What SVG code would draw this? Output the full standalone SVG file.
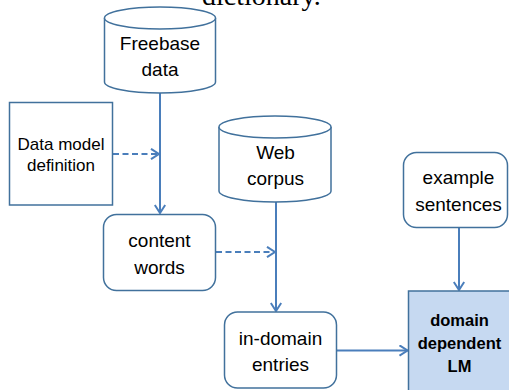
<svg xmlns="http://www.w3.org/2000/svg" width="509" height="390" viewBox="0 0 509 390">
<style>
.shape{fill:#ffffff;stroke:#41719c;stroke-width:1.5}
.lm{fill:#c6d9f1;stroke:#41719c;stroke-width:1.5}
.conn{fill:none;stroke:#4a7ebb;stroke-width:2}
.dash{stroke-dasharray:6 3.5}
.t{font-family:"Liberation Sans",Arial,sans-serif;font-size:19px;fill:#000;text-anchor:middle}
.ts{font-family:"Liberation Sans",Arial,sans-serif;font-size:17px;fill:#000;text-anchor:middle}
.tb{font-family:"Liberation Sans",Arial,sans-serif;font-size:16.5px;font-weight:bold;fill:#000;text-anchor:middle}
</style>
<defs>
<marker id="arr" viewBox="0 0 10 12" refX="9" refY="6" markerWidth="10" markerHeight="12" markerUnits="userSpaceOnUse" orient="auto">
<path d="M1,0.8 L9,6 L1,11.2" fill="none" stroke="#4a7ebb" stroke-width="2"/>
</marker>
</defs>
<rect width="509" height="390" fill="#ffffff"/>
<text x="202" y="5" font-family="'Liberation Serif','Times New Roman',serif" font-size="28" fill="#000">dictionary.</text>

<g id="connectors">
<line class="conn" x1="160" y1="93" x2="160" y2="213" marker-end="url(#arr)"/>
<line class="conn dash" x1="113" y1="154" x2="159" y2="154" marker-end="url(#arr)"/>
<line class="conn" x1="276" y1="202" x2="276" y2="311" marker-end="url(#arr)"/>
<line class="conn dash" x1="216" y1="252" x2="275" y2="252" marker-end="url(#arr)"/>
<line class="conn" x1="337" y1="350.5" x2="407.5" y2="350.5" marker-end="url(#arr)"/>
<line class="conn" x1="459" y1="227" x2="459" y2="290" marker-end="url(#arr)"/>
</g>

<g id="freebase">
<path class="shape" d="M104.5,18 A55.5,11 0 0 1 215.5,18 L215.5,82 A55.5,11 0 0 1 104.5,82 Z"/>
<path class="shape" d="M104.5,18 A55.5,11 0 0 0 215.5,18" fill="none"/>
<text class="t" x="160" y="50">Freebase</text>
<text class="t" x="160" y="76">data</text>
</g>

<g id="datamodel">
<rect class="shape" x="9.5" y="102.5" width="103" height="102.5"/>
<text class="ts" x="61" y="150">Data model</text>
<text class="ts" x="61" y="171">definition</text>
</g>

<g id="webcorpus">
<path class="shape" d="M219,127 A56,11 0 0 1 331,127 L331,191 A56,11 0 0 1 219,191 Z"/>
<path class="shape" d="M219,127 A56,11 0 0 0 331,127" fill="none"/>
<text class="t" x="275.5" y="159">Web</text>
<text class="t" x="275.5" y="185">corpus</text>
</g>

<g id="contentwords">
<rect class="shape" x="103.5" y="214.5" width="112" height="76" rx="13" ry="13"/>
<text class="t" x="159.5" y="247">content</text>
<text class="t" x="159.5" y="274">words</text>
</g>

<g id="examplesentences">
<rect class="shape" x="403.5" y="152.5" width="104" height="75" rx="13" ry="13"/>
<text class="t" x="458.5" y="184">example</text>
<text class="t" x="458.5" y="210.5">sentences</text>
</g>

<g id="indomain">
<rect class="shape" x="224.5" y="312" width="112" height="76" rx="13" ry="13"/>
<text class="t" x="280.5" y="345">in-domain</text>
<text class="t" x="280.5" y="371">entries</text>
</g>

<g id="lm">
<rect class="lm" x="408.5" y="291" width="110" height="110"/>
<text class="tb" x="459.5" y="326">domain</text>
<text class="tb" x="459.5" y="349">dependent</text>
<text class="tb" x="459.5" y="372">LM</text>
</g>
</svg>
